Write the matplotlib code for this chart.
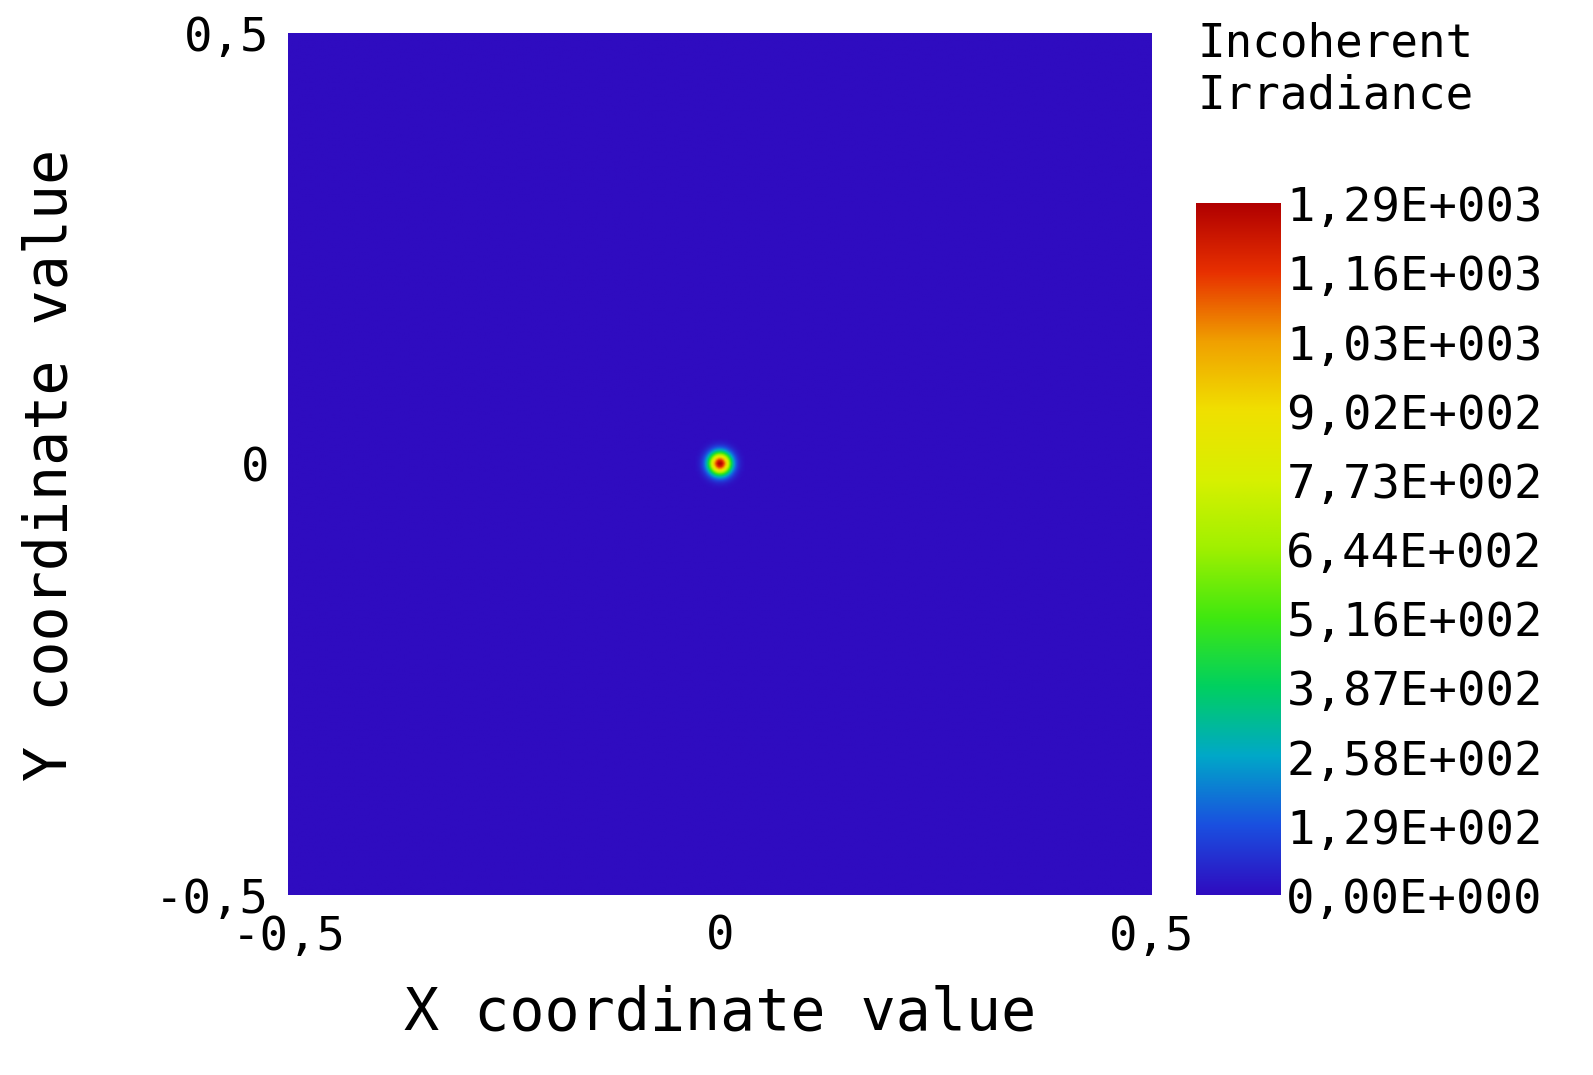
import matplotlib
matplotlib.use("Agg")
import matplotlib.pyplot as plt
import numpy as np
from matplotlib.colors import LinearSegmentedColormap

# spot parameters
spot_x, spot_y = 0.0, 0.0
spot_sigma = 0.009
peak = 1290.0
cbar_ticks = [0, 129, 258, 387, 516, 644, 773, 902, 1030, 1160, 1290]
cbar_labels = ["0,00E+000", "1,29E+002", "2,58E+002", "3,87E+002", "5,16E+002",
               "6,44E+002", "7,73E+002", "9,02E+002", "1,03E+003", "1,16E+003", "1,29E+003"]
axis_ticks = [-0.5, 0, 0.5]
axis_labels = ["-0,5", "0", "0,5"]

cmap = LinearSegmentedColormap.from_list("irr", [
    "#2f0cc0", "#1a50e0", "#00a8c8", "#00d060", "#40e810", "#a0f000",
    "#d8f000", "#f0e000", "#f0a000", "#e83000", "#b00000"])

n = 601
xs = np.linspace(-0.5, 0.5, n)
X, Y = np.meshgrid(xs, xs)
Z = peak * np.exp(-((X - spot_x) ** 2 + (Y - spot_y) ** 2) / (2 * spot_sigma ** 2))

fig = plt.figure(figsize=(15.93, 10.75), dpi=100)
plt.rcParams["font.family"] = "DejaVu Sans Mono"
ax = fig.add_axes([0.181, 0.167, 0.542, 0.802])
ax.imshow(Z, extent=(-0.5, 0.5, -0.5, 0.5), origin="lower", cmap=cmap,
          vmin=0, vmax=peak, aspect="auto", interpolation="bilinear")
ax.set_xticks(axis_ticks)
ax.set_xticklabels(axis_labels)
ax.set_yticks(axis_ticks)
ax.set_yticklabels(axis_labels)
ax.tick_params(axis="x", length=0, labelsize=34, pad=14)
ax.tick_params(axis="y", length=0, labelsize=34, pad=14)
for s in ax.spines.values():
    s.set_visible(False)
ax.set_xlabel("X coordinate value", fontsize=42, labelpad=18)
ax.set_ylabel("Y coordinate value", fontsize=42, labelpad=55)

cax = fig.add_axes([0.751, 0.167, 0.053, 0.644])
grad = np.linspace(0, peak, 256).reshape(-1, 1)
cax.imshow(grad, extent=(0, 1, 0, peak), origin="lower", cmap=cmap, aspect="auto")
cax.set_xticks([])
cax.yaxis.tick_right()
cax.set_yticks(cbar_ticks)
cax.set_yticklabels(cbar_labels)
cax.tick_params(length=0, labelsize=34, pad=4)
for s in cax.spines.values():
    s.set_visible(False)
fig.text(0.752, 0.89, "Incoherent\nIrradiance", fontsize=33, va="bottom",
         ha="left", linespacing=1.2)

fig.savefig("out.png", dpi=100, facecolor="white")
